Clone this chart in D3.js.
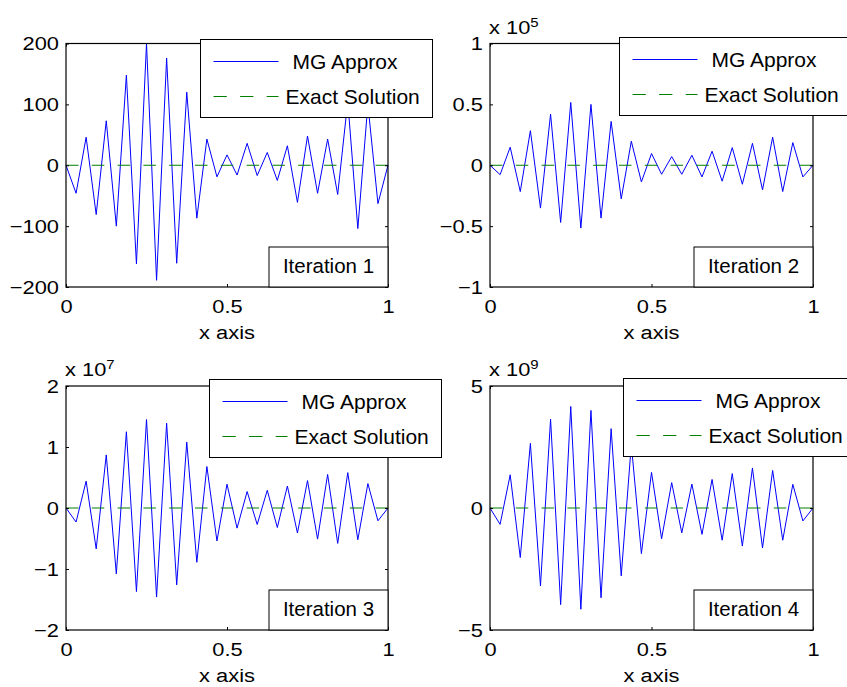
<!DOCTYPE html>
<html lang="en">
<head>
    <meta charset="UTF-8">
    <title>MG Approx vs Exact Solution</title>
    <script src="https://cdn.jsdelivr.net/npm/d3@7"></script>
    <style>
        body { margin: 0; background: #fff; }
        text { font-family: "Liberation Sans", Arial, Helvetica, sans-serif; fill: #000; }
    </style>
</head>
<body>
<svg id="chart" width="847" height="687"></svg>
<script>
    // grid nodes (33 points on [0,1])
    const xNodes = [0, 0.03125, 0.0625, 0.09375, 0.125, 0.15625, 0.1875, 0.21875, 0.25,
        0.28125, 0.3125, 0.34375, 0.375, 0.40625, 0.4375, 0.46875, 0.5,
        0.53125, 0.5625, 0.59375, 0.625, 0.65625, 0.6875, 0.71875, 0.75,
        0.78125, 0.8125, 0.84375, 0.875, 0.90625, 0.9375, 0.96875, 1]

    // MG approximation after each iteration (in units of the axis multiplier)
    const iter1 = [0, -46, 46, -81, 73, -100, 148, -162, 200, -189, 176, -161, 120, -87, 43, -19, 17,
        -16, 36, -17, 21, -25, 32, -61, 48, -46, 43, -48, 105, -104, 100, -63, 0]
    const iter2 = [0, -0.077, 0.148, -0.216, 0.284, -0.352, 0.42, -0.47, 0.516, -0.516, 0.50, -0.434,
        0.36, -0.276, 0.197, -0.137, 0.096, -0.074, 0.071, -0.074, 0.082, -0.096, 0.115, -0.131,
        0.145, -0.156, 0.18, -0.202, 0.23, -0.216, 0.186, -0.096, 0]
    const iter3 = [0, -0.23, 0.44, -0.67, 0.87, -1.08, 1.25, -1.37, 1.45, -1.46, 1.39, -1.26, 1.08,
        -0.89, 0.68, -0.54, 0.39, -0.33, 0.27, -0.27, 0.29, -0.32, 0.36, -0.41, 0.45, -0.51, 0.55,
        -0.58, 0.58, -0.52, 0.40, -0.21, 0]
    const iter4 = [0, -0.67, 1.36, -2.03, 2.65, -3.19, 3.64, -3.96, 4.16, -4.15, 4.0, -3.68, 3.25,
        -2.78, 2.6, -1.87, 1.46, -1.26, 1.04, -1.02, 0.98, -1.08, 1.17, -1.32, 1.41, -1.56, 1.64,
        -1.64, 1.54, -1.32, 0.97, -0.53, 0]
    const exactSolution = [0, 0, 0, 0, 0, 0, 0, 0, 0, 0, 0, 0, 0, 0, 0, 0, 0,
        0, 0, 0, 0, 0, 0, 0, 0, 0, 0, 0, 0, 0, 0, 0, 0]

    const xTicks = [0, 0.5, 1]
    const yTicks1 = [-200, -100, 0, 100, 200]
    const yTicks2 = [-1, -0.5, 0, 0.5, 1]
    const yTicks3 = [-2, -1, 0, 1, 2]
    const yTicks4 = [-5, 0, 5]
    const exponents = [null, 5, 7, 9]
    const iterLabels = ['Iteration 1', 'Iteration 2', 'Iteration 3', 'Iteration 4']
    const legendLabels = ['MG Approx', 'Exact Solution']
    const xLabel = 'x axis'

    const series = [iter1, iter2, iter3, iter4]
    const yTicks = [yTicks1, yTicks2, yTicks3, yTicks4]

    // subplot boxes and legend corners
    const layout = [
        { x: 66, y: 43.5, w: 322, h: 243.5, lx: 200.5, ly: 39.5 },
        { x: 490, y: 43.5, w: 323, h: 243.5, lx: 619.5, ly: 37.5 },
        { x: 66, y: 386, w: 322, h: 244, lx: 209.5, ly: 379.5 },
        { x: 490, y: 386, w: 323, h: 244, lx: 623.5, ly: 378.5 }
    ]

    const blue = '#0000ff'
    const green = '#008000'
    const tickFont = 19
    const stretch = 1.15   // axis font in the original is a bit wider than Liberation Sans
    const textFont = 21

    const fmt = d => d < 0 ? '\u2212' + Math.abs(d) : String(d)

    let svg = d3.select('#chart')

    layout.forEach((p, i) => {
        let g = svg.append('g')
        let ticks = yTicks[i]

        let xScale = d3.scaleLinear().domain([0, 1]).range([p.x, p.x + p.w])
        let yScale = d3.scaleLinear()
            .domain([d3.min(ticks), d3.max(ticks)])
            .range([p.y + p.h, p.y])

        // lines
        let approx = xNodes.map((x, k) => [x, series[i][k]])
        let exact = xNodes.map((x, k) => [x, exactSolution[k]])
        let line = d3.line().x(d => xScale(d[0])).y(d => yScale(d[1]))

        g.append('path')
            .attr('d', line(approx))
            .attr('fill', 'none')
            .attr('stroke', blue)
            .attr('stroke-width', 1)

        g.append('path')
            .attr('d', line(exact))
            .attr('fill', 'none')
            .attr('stroke', green)
            .attr('stroke-width', 1.2)
            .attr('stroke-dasharray', '12.5,13.3')

        // axes, ticks pointing inward on all four sides
        let left = g.append('g')
            .attr('transform', 'translate(' + p.x + ',0)')
            .call(d3.axisLeft(yScale).tickValues(ticks).tickSizeInner(-3).tickSizeOuter(0)
                .tickPadding(7).tickFormat(fmt))
        let right = g.append('g')
            .attr('transform', 'translate(' + (p.x + p.w) + ',0)')
            .call(d3.axisRight(yScale).tickValues(ticks).tickSizeInner(-3).tickSizeOuter(0)
                .tickFormat(''))
        let bottom = g.append('g')
            .attr('transform', 'translate(0,' + (p.y + p.h) + ')')
            .call(d3.axisBottom(xScale).tickValues(xTicks).tickSizeInner(-3).tickSizeOuter(0)
                .tickPadding(13).tickFormat(fmt))
        let top = g.append('g')
            .attr('transform', 'translate(0,' + p.y + ')')
            .call(d3.axisTop(xScale).tickValues(xTicks).tickSizeInner(-3).tickSizeOuter(0)
                .tickFormat(''))

        ;[left, right, bottom, top].forEach(a => {
            a.select('.domain').remove()
            a.selectAll('line').attr('stroke', '#000')
            a.attr('font-size', tickFont).attr('font-family', null)
            a.selectAll('text').each(function () {
                let t = d3.select(this)
                let tx = +t.attr('x') || 0
                t.attr('x', 0).attr('transform', 'translate(' + tx + ',0) scale(' + stretch + ',1)')
            })
        })

        g.append('rect')
            .attr('x', p.x).attr('y', p.y)
            .attr('width', p.w).attr('height', p.h)
            .attr('fill', 'none')
            .attr('stroke', '#000')
            .attr('stroke-width', 1.2)

        g.append('text')
            .attr('text-anchor', 'middle')
            .attr('font-size', tickFont)
            .attr('transform', 'translate(' + (p.x + p.w / 2) + ',' + (p.y + p.h + 52) + ') scale(' + stretch + ',1)')
            .text(xLabel)

        // axis multiplier
        if (exponents[i] !== null) {
            let t = g.append('text')
                .attr('font-size', tickFont)
                .attr('transform', 'translate(' + (p.x - 1) + ',' + (p.y - 10) + ') scale(' + stretch + ',1)')
                .text('x 10')
            t.append('tspan')
                .attr('dy', -7)
                .attr('font-size', 13)
                .text(exponents[i])
        }

        // iteration tag
        let bw = 119, bh = 40
        g.append('rect')
            .attr('x', p.x + p.w - bw).attr('y', p.y + p.h - bh)
            .attr('width', bw).attr('height', bh)
            .attr('fill', '#fff')
            .attr('stroke', '#000')
        g.append('text')
            .attr('x', p.x + p.w - bw / 2)
            .attr('y', p.y + p.h - bh + 26)
            .attr('text-anchor', 'middle')
            .attr('font-size', 20.5)
            .text(iterLabels[i])

        // legend
        let lg = g.append('g').attr('transform', 'translate(' + p.lx + ',' + p.ly + ')')
        lg.append('rect')
            .attr('width', 232).attr('height', 78)
            .attr('fill', '#fff')
            .attr('stroke', '#000')
        lg.append('line')
            .attr('x1', 13).attr('x2', 78).attr('y1', 22).attr('y2', 22)
            .attr('stroke', blue)
        lg.append('line')
            .attr('x1', 13).attr('x2', 78).attr('y1', 57).attr('y2', 57)
            .attr('stroke', green)
            .attr('stroke-width', 1.2)
            .attr('stroke-dasharray', '13.3,13.3')
        lg.append('text')
            .attr('x', 92).attr('y', 29)
            .attr('font-size', textFont)
            .text(legendLabels[0])
        lg.append('text')
            .attr('x', 85).attr('y', 64)
            .attr('font-size', textFont)
            .text(legendLabels[1])
    })
</script>
</body>
</html>
